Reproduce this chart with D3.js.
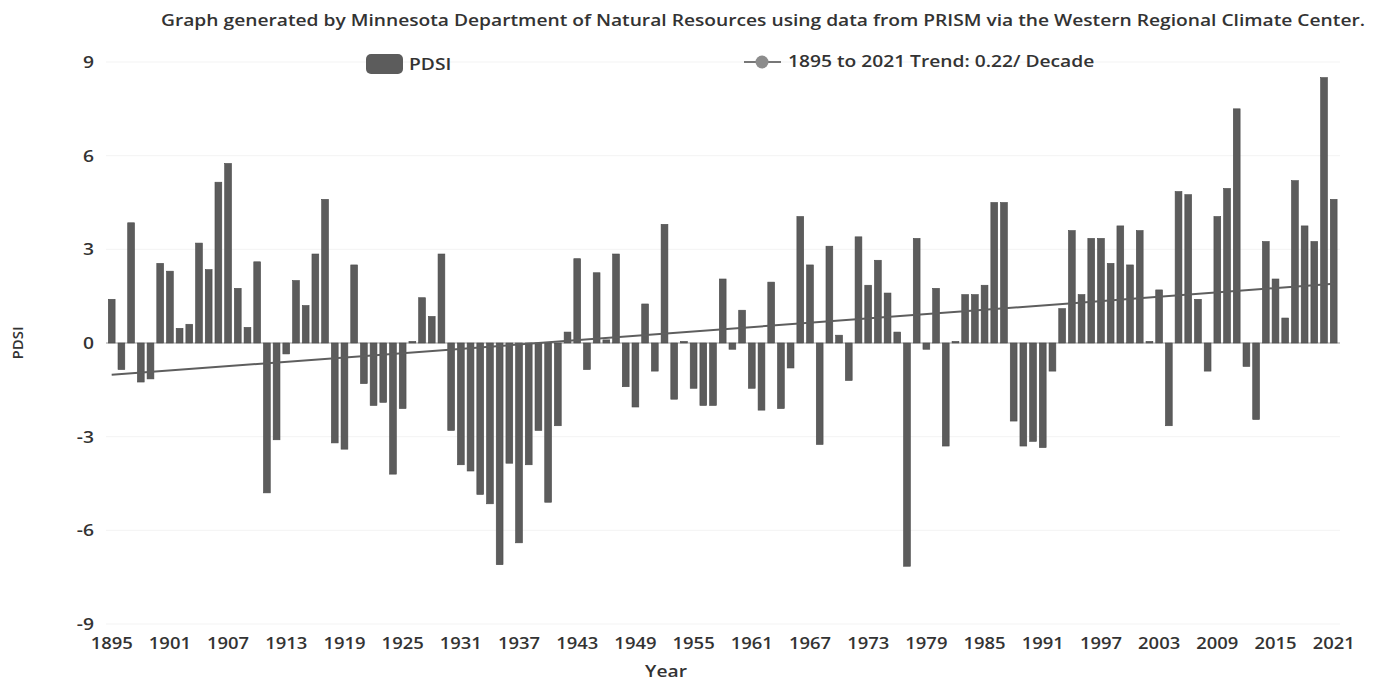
<!DOCTYPE html>
<html>
<head>
<meta charset="utf-8">
<script src="https://cdn.jsdelivr.net/npm/d3@7"></script>
<style>
  html, body { margin: 0; padding: 0; background: #fff; }
  svg { display: block; }
  text { font-family: "Open Sans", "Noto Sans", sans-serif; fill: #333; }
</style>
</head>
<body>
<svg id="chart" width="1374" height="682"></svg>
<script>
// ---- data ----
const years = d3.range(1895, 2022);
const pdsi = [
  1.4, -0.85, 3.85, -1.25, -1.15, 2.55, 2.3, 0.47, 0.6, 3.2,
  2.35, 5.15, 5.75, 1.75, 0.5, 2.6, -4.8, -3.1, -0.35, 2.0,
  1.2, 2.85, 4.6, -3.2, -3.4, 2.5, -1.3, -2.0, -1.9, -4.2,
  -2.1, 0.05, 1.45, 0.85, 2.85, -2.8, -3.9, -4.1, -4.85, -5.15,
  -7.1, -3.85, -6.4, -3.9, -2.8, -5.1, -2.65, 0.35, 2.7, -0.85,
  2.25, 0.1, 2.85, -1.4, -2.05, 1.25, -0.9, 3.8, -1.8, 0.05,
  -1.45, -2.0, -2.0, 2.05, -0.2, 1.05, -1.45, -2.15, 1.95, -2.1,
  -0.8, 4.05, 2.5, -3.25, 3.1, 0.25, -1.2, 3.4, 1.85, 2.65,
  1.6, 0.35, -7.15, 3.35, -0.2, 1.75, -3.3, 0.05, 1.55, 1.55,
  1.85, 4.5, 4.5, -2.5, -3.3, -3.15, -3.35, -0.9, 1.1, 3.6,
  1.55, 3.35, 3.35, 2.55, 3.75, 2.5, 3.6, 0.05, 1.7, -2.65,
  4.85, 4.75, 1.4, -0.9, 4.05, 4.95, 7.5, -0.75, -2.45, 3.25,
  2.05, 0.8, 5.2, 3.75, 3.25, 8.5, 4.6
];
const trendYears = [1895, 2021];
const trendValues = [-1.02, 1.9];
const yTicks = [-9, -6, -3, 0, 3, 6, 9];
const xTickYears = [1895, 1901, 1907, 1913, 1919, 1925, 1931, 1937, 1943, 1949, 1955,
  1961, 1967, 1973, 1979, 1985, 1991, 1997, 2003, 2009, 2015, 2021];
const titleText = "Graph generated by Minnesota Department of Natural Resources using data from PRISM via the Western Regional Climate Center.";
const barLabel = "PDSI";
const trendLabel = "1895 to 2021 Trend: 0.22/ Decade";
const xTitle = "Year";
const yTitle = "PDSI";

// ---- layout ----
const svg = d3.select("#chart");
const STRETCH = 1.2;
function stretch(sel, f) {
  const k = f || STRETCH;
  sel.each(function () {
    const len = this.getComputedTextLength();
    this.setAttribute("textLength", (len * k).toFixed(1));
    this.setAttribute("lengthAdjust", "spacingAndGlyphs");
  });
  return sel;
}

const x = d3.scaleBand().domain(years).range([106.85, 1338.55]).paddingInner(0.3).paddingOuter(0.15);
const y = d3.scaleLinear().domain([-9, 9]).range([624, 62]);
const cx = yr => x(yr) + x.bandwidth() / 2;

// gridlines
svg.append("g").selectAll("line").data(yTicks.filter(d => d !== 0)).join("line")
  .attr("x1", 106).attr("x2", 1340)
  .attr("y1", d => y(d)).attr("y2", d => y(d))
  .attr("stroke", "#f3f3f3").attr("stroke-width", 1);

// y axis labels
const yAxis = d3.axisLeft(y).tickValues(yTicks).tickSize(0).tickPadding(0).tickFormat(d => String(d));
const gy = svg.append("g").attr("transform", "translate(94,0)").call(yAxis);
gy.select(".domain").remove();
gy.selectAll("text").attr("font-size", 16).attr("font-weight", 600).attr("fill", "#333")
  .attr("font-family", "Open Sans").attr("dy", "0.35em");
stretch(gy.selectAll("text"));

// zero axis line
svg.append("line").attr("x1", 106).attr("x2", 1340).attr("y1", y(0)).attr("y2", y(0))
  .attr("stroke", "#9a9a9a").attr("stroke-width", 1.2);

// bars
svg.append("g").selectAll("rect").data(years).join("rect")
  .attr("x", (d) => x(d))
  .attr("width", x.bandwidth())
  .attr("y", (d, i) => y(Math.max(0, pdsi[i])))
  .attr("height", (d, i) => Math.abs(y(pdsi[i]) - y(0)))
  .attr("fill", "#5c5c5c")
  .attr("stroke", "#4a4a4a").attr("stroke-width", 0.6);

// trend line
const line = d3.line().x(d => cx(d[0])).y(d => y(d[1]));
svg.append("path").datum(trendYears.map((yr, i) => [yr, trendValues[i]]))
  .attr("d", line).attr("fill", "none").attr("stroke", "#5e5e5e").attr("stroke-width", 2);

// x tick labels
const xAxis = d3.axisBottom(x).tickValues(xTickYears).tickSize(0).tickPadding(0);
const gx = svg.append("g").attr("transform", "translate(0,638)").call(xAxis);
gx.select(".domain").remove();
gx.selectAll("text").attr("font-size", 16).attr("font-weight", 600).attr("fill", "#333")
  .attr("font-family", "Open Sans").attr("dy", "0.71em");
stretch(gx.selectAll("text"), 1.15);

// axis titles
stretch(svg.append("text").attr("x", 666).attr("y", 677).attr("text-anchor", "middle")
  .attr("font-size", 16).attr("font-weight", 600).text(xTitle));
svg.append("text").attr("transform", "translate(23,343) rotate(-90)").attr("text-anchor", "middle")
  .attr("font-size", 15).attr("font-weight", 600).text(yTitle);

// title
stretch(svg.append("text").attr("x", 763).attr("y", 26).attr("text-anchor", "middle")
  .attr("font-size", 16).attr("font-weight", 600).text(titleText));

// legend
svg.append("rect").attr("x", 366).attr("y", 54).attr("width", 37).attr("height", 20).attr("rx", 5)
  .attr("fill", "#5c5c5c");
stretch(svg.append("text").attr("x", 409).attr("y", 70).attr("font-size", 16).attr("font-weight", 600).text(barLabel));
svg.append("line").attr("x1", 744).attr("x2", 781).attr("y1", 62).attr("y2", 62)
  .attr("stroke", "#777").attr("stroke-width", 2);
svg.append("circle").attr("cx", 762).attr("cy", 62).attr("r", 6.5).attr("fill", "#8c8c8c");
stretch(svg.append("text").attr("x", 788).attr("y", 67).attr("font-size", 16).attr("font-weight", 600).text(trendLabel));
</script>
</body>
</html>
